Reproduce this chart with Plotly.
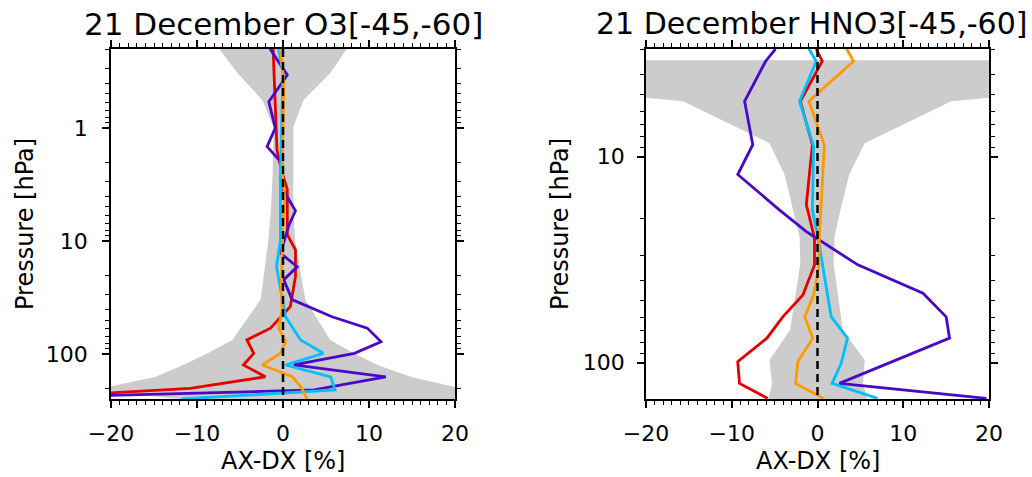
import numpy as np
import plotly.graph_objects as go

W, H = 1032, 477

# ---------------- O3 panel data ----------------
o3_band_p = [0.2, 0.326, 0.565, 0.98, 2.5, 5.3, 9.8, 33, 75, 98, 125, 160, 208, 250]
o3_band_lo = [-7.4, -5.3, -2.4, -1.1, -1.2, -1.4, -1.7, -2.6, -5.9, -8.7, -11.6, -14.9, -22, -12]
o3_band_hi = [7.4, 5.5, 2.4, 1.2, 1.2, 1.2, 1.4, 2.6, 5.5, 8.2, 11, 14.9, 21.5, 25]

o3_purple_p = [0.2, 0.34, 0.585, 1.0, 1.46, 2.05, 3.5, 5.4, 7.2, 12.8, 16.9, 22, 33, 46.8, 59, 78, 98.6, 125, 159, 208, 238]
o3_purple_x = [-1.5, 0.5, -1.65, -0.9, -1.85, -0.1, 0.0, 1.45, 0.7, -0.3, 1.65, 0.1, 1.05, 5.7, 9.8, 11.4, 8.3, 1.25, 11.95, 3.6, -25]

o3_red_p = [0.2, 1.57, 2.5, 3.5, 6.5, 8.8, 12, 20.7, 38, 59, 75, 98.6, 125, 159, 201, 232]
o3_red_x = [-1.15, -0.7, -0.1, 0.5, 0.5, 0.5, 1.45, 1.45, 0.85, -1.45, -4.2, -3.4, -4.6, -2.05, -10.8, -25]

o3_cyan_p = [0.2, 0.33, 2.5, 6.5, 9.8, 16.9, 27, 46.8, 75, 98.6, 125, 159, 208, 250]
o3_cyan_x = [-0.5, 0.0, -0.3, -0.35, -0.3, -0.75, -0.3, 0.3, 2.05, 4.7, 0.3, 5.55, 6.05, -11.8]

o3_orange_p = [0.2, 0.4, 1.0, 2.5, 4.0, 6.5, 12, 25, 40, 59, 78, 98.6, 125, 159, 201, 250]
o3_orange_x = [-0.3, 0.1, 0.0, -0.1, 0.2, 0.0, -0.1, -0.2, -0.1, -0.5, 0.3, -0.3, -2.4, 1.1, 2.2, 2.8]

# ---------------- HNO3 panel data ----------------
hno3_band_p = [3.4, 5.15, 5.38, 8.6, 12.2, 19.5, 24.4, 32.9, 69.3, 97, 126, 155]
hno3_band_lo = [-20.5, -20.5, -15.7, -5.6, -3.85, -2.7, -2.1, -2.0, -3.2, -5.6, -5.3, -5.8]
hno3_band_hi = [20.5, 20.5, 15.6, 5.5, 3.7, 2.5, 2.0, 1.87, 2.95, 5.5, 5.3, 5.9]

hno3_purple_p = [3.0, 3.44, 5.38, 8.74, 12.2, 18.1, 23.1, 25.8, 33.5, 46, 59.9, 76, 126, 149]
hno3_purple_x = [-4.9, -6.05, -8.5, -7.55, -9.3, -4.45, -1.3, 0.45, 4.7, 12.3, 15.0, 15.4, 2.55, 19.7]

hno3_red_p = [3.0, 3.44, 5.38, 8.74, 17.1, 24.8, 33.5, 46.9, 59.9, 76, 98.9, 126, 149]
hno3_red_x = [-0.15, 0.55, -2.0, -0.6, -1.3, -0.35, -0.35, -1.7, -4.05, -5.9, -9.3, -9.1, -5.8]

hno3_cyan_p = [3.0, 3.44, 5.38, 8.9, 18.1, 24.4, 42.7, 59.9, 76, 101, 126, 149]
hno3_cyan_x = [-1.0, -0.15, -2.1, -0.45, -0.6, 0.05, 1.0, 1.6, 3.5, 2.75, 1.7, 7.0]

hno3_orange_p = [3.0, 3.44, 5.38, 8.8, 25.3, 34.1, 46.9, 59.9, 76, 98.9, 126, 149]
hno3_orange_x = [3.4, 4.2, -1.0, 0.8, 0.2, 0.15, -0.45, -1.5, -0.55, -2.3, -2.55, 0.7]

x_ticks = [-20, -10, 0, 10, 20]
o3_yticks = [1, 10, 100]
hno3_yticks = [10, 100]
o3_prange = (0.2, 250)
hno3_prange = (3, 150)

titles = ["21 December O3[-45,-60]", "21 December HNO3[-45,-60]"]
xlabel = "AX-DX [%]"
ylabel = "Pressure [hPa]"

COL = dict(purple="#4a08c8", red="#e60000", cyan="#00bfff", orange="#ff9900", band="#cccccc")
FONT = "DejaVu Sans"

fig = go.Figure()


def add_panel(xa, ya, band_p, lo, hi, series, prange):
    fig.add_trace(go.Scatter(
        x=list(lo) + list(hi)[::-1], y=list(band_p) + list(band_p)[::-1],
        fill="toself", fillcolor=COL["band"], line=dict(width=0),
        mode="lines", xaxis=xa, yaxis=ya, hoverinfo="skip", showlegend=False))
    for name, xs, ps in series:
        fig.add_trace(go.Scatter(x=xs, y=ps, mode="lines",
                                 line=dict(color=COL[name], width=2.8),
                                 xaxis=xa, yaxis=ya, showlegend=False))
    fig.add_trace(go.Scatter(x=[0, 0], y=list(prange), mode="lines",
                             line=dict(color="black", width=2.5, dash="8px,5px"),
                             xaxis=xa, yaxis=ya, showlegend=False))


add_panel("x", "y", o3_band_p, o3_band_lo, o3_band_hi,
          [("red", o3_red_x, o3_red_p), ("purple", o3_purple_x, o3_purple_p),
           ("cyan", o3_cyan_x, o3_cyan_p), ("orange", o3_orange_x, o3_orange_p)],
          o3_prange)
add_panel("x2", "y2", hno3_band_p, hno3_band_lo, hno3_band_hi,
          [("red", hno3_red_x, hno3_red_p), ("purple", hno3_purple_x, hno3_purple_p),
           ("cyan", hno3_cyan_x, hno3_cyan_p), ("orange", hno3_orange_x, hno3_orange_p)],
          hno3_prange)


def minor_log(lo, hi):
    vals = []
    for d in range(-2, 4):
        for m in range(2, 10):
            v = m * 10.0 ** d
            if lo * 0.999 <= v <= hi * 1.001:
                vals.append(v)
    return vals


common_axis = dict(showline=True, linecolor="black", linewidth=1.5, mirror="allticks",
                   ticks="outside", ticklen=7, tickwidth=1.5, tickcolor="black",
                   showgrid=False, zeroline=False, automargin=False,
                   tickfont=dict(family=FONT, size=22, color="black"))

ydom = [1 - 399 / H, 1 - 49 / H]
x1dom = [111 / W, 455 / W]
x2dom = [646 / W, 989 / W]

xax = dict(common_axis, range=[-20, 20], tickvals=x_ticks, ticklabelstandoff=7,
           minor=dict(dtick=1, ticklen=4, tickwidth=1.2, ticks="outside", tickcolor="black"))

fig.update_layout(
    width=W, height=H, margin=dict(l=0, r=0, t=0, b=0, autoexpand=False),
    paper_bgcolor="white", plot_bgcolor="white",
    xaxis=dict(xax, domain=x1dom, anchor="y"),
    xaxis2=dict(xax, domain=x2dom, anchor="y2"),
    yaxis=dict(common_axis, type="log", domain=ydom, anchor="x",
               range=[np.log10(o3_prange[1]), np.log10(o3_prange[0])],
               tickvals=o3_yticks, ticktext=[str(v) for v in o3_yticks], ticklabelstandoff=10,
               minor=dict(tickvals=minor_log(*o3_prange), ticklen=4, tickwidth=1.2,
                          ticks="outside", tickcolor="black")),
    yaxis2=dict(common_axis, type="log", domain=ydom, anchor="x2",
                range=[np.log10(hno3_prange[1]), np.log10(hno3_prange[0])],
                tickvals=hno3_yticks, ticktext=[str(v) for v in hno3_yticks], ticklabelstandoff=8,
                minor=dict(tickvals=minor_log(*hno3_prange), ticklen=4, tickwidth=1.2,
                           ticks="outside", tickcolor="black")),
)

centers = [(x1dom[0] + x1dom[1]) / 2, (x2dom[0] + x2dom[1]) / 2]
# left title centred over its panel; right title kept inside the page
fig.add_annotation(text=titles[0], x=centers[0], y=1 - 24 / H, xref="paper", yref="paper",
                   xanchor="center", yanchor="middle", showarrow=False,
                   font=dict(family=FONT, size=31, color="black"))
fig.add_annotation(text=titles[1], x=1029 / W, y=1 - 24 / H, xref="paper", yref="paper",
                   xanchor="right", yanchor="middle", showarrow=False,
                   font=dict(family=FONT, size=30, color="black"))
for cx in centers:
    fig.add_annotation(text=xlabel, x=cx, y=1 - 461 / H, xref="paper", yref="paper",
                       xanchor="center", yanchor="middle", showarrow=False,
                       font=dict(family=FONT, size=24, color="black"))
for lx in [25 / W, 560 / W]:
    fig.add_annotation(text=ylabel, x=lx, y=(ydom[0] + ydom[1]) / 2, xref="paper", yref="paper",
                       xanchor="center", yanchor="middle", showarrow=False, textangle=-90,
                       font=dict(family=FONT, size=24, color="black"))

fig.write_html("out.html")
